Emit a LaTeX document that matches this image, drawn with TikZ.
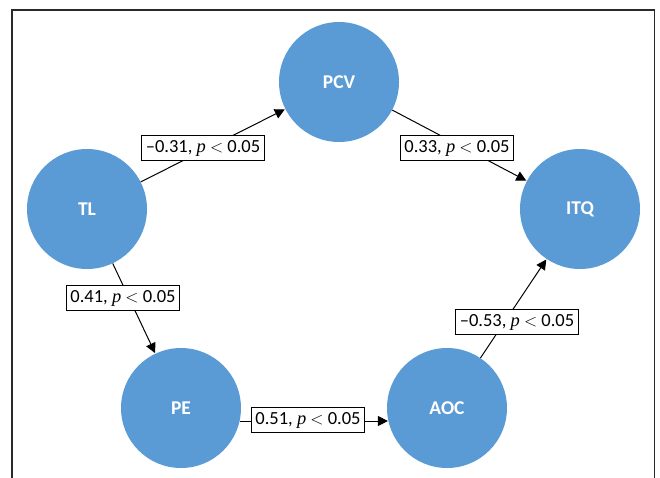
\documentclass[tikz,border=0pt]{standalone}
\usepackage{fontspec}
\setmainfont{Carlito}
\newfontfamily\pfont{Liberation Serif}
\usetikzlibrary{arrows.meta,calc}
\definecolor{nodeblue}{HTML}{5B9BD5}
\definecolor{framegray}{HTML}{2A2A2A}
\tikzset{
  var/.style={circle, fill=nodeblue, minimum size=120pt, inner sep=0pt, text=white, font=\fontsize{19.5}{21}\selectfont\bfseries},
  lbl/.style={draw=black, fill=white, line width=0.8pt, inner xsep=4pt, inner ysep=4.5pt, font=\fontsize{18.5}{20}\selectfont},
  link/.style={-{Triangle[length=10pt,width=10pt]}, line width=1pt, black, shorten >=0.5pt},
}
\newcommand{\pp}{{\pfont\itshape p}}
\newcommand{\lessthan}{\ensuremath{<}}
\begin{document}
\begin{tikzpicture}[x=1pt,y=-1pt]
\useasboundingbox (0,0) rectangle (660,477);
\begin{scope}
\clip (0,0) rectangle (660,477);
\draw[framegray, line width=1.6pt] (12,490) -- (12,10) -- (654.5,10) -- (654.5,490);
\end{scope}
\node[var] (PCV) at (339,82) {PCV};
\node[var] (TL) at (87,209) {TL};
\node[var] (ITQ) at (580,209) {ITQ};
\node[var] (PE) at (181,408) {PE};
\node[var] (AOC) at (447,408) {AOC};
\coordinate (peout) at ($(PE.center)+(58.6,13)$);
\coordinate (aocin) at ($(AOC.center)+(-58.6,13)$);
\draw[link] (TL) -- (PCV);
\draw[link] (PCV) -- (ITQ);
\draw[link] (TL) -- (PE);
\draw[link] (AOC) -- (ITQ);
\draw[link] (peout) -- (aocin);
\node[lbl] (l1) at (203,148) {–0.31, \pp{} \lessthan{} 0.05};
\node[lbl] (l2) at (457,148) {0.33, \pp{} \lessthan{} 0.05};
\node[lbl] (l3) at (123,298) {0.41, \pp{} \lessthan{} 0.05};
\node[lbl] (l4) at (308,420) {0.51, \pp{} \lessthan{} 0.05};
\node[lbl] (l5) at (517,322) {–0.53, \pp{} \lessthan{} 0.05};
\end{tikzpicture}
\end{document}
